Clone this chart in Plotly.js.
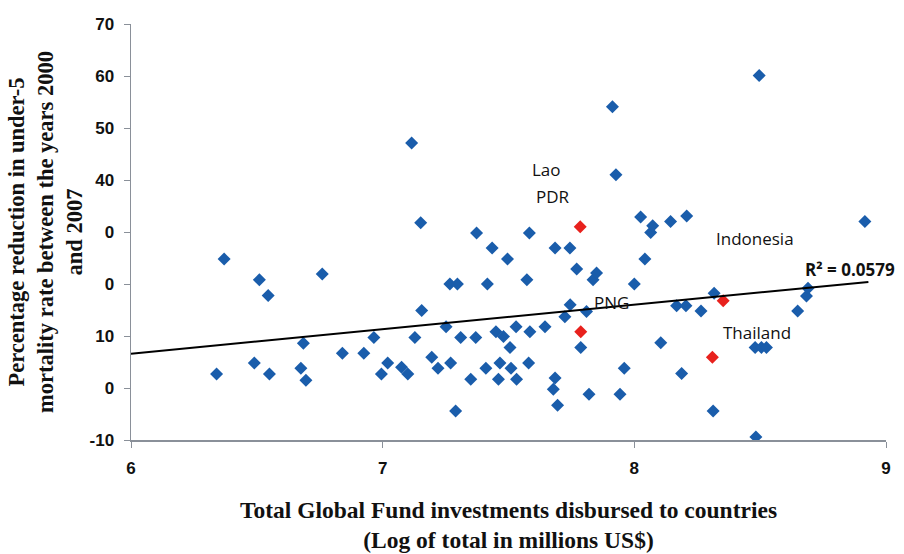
<!DOCTYPE html>
<html>
<head>
<meta charset="utf-8">
<script src="https://cdn.plot.ly/plotly-3.0.1.min.js"></script>
<style>html,body{margin:0;padding:0;background:#fff;}#chart{width:904px;height:554px;}</style>
</head>
<body>
<div id="chart"></div>
<script>
// Countries (blue): log total Global Fund investment vs % reduction in U5MR
const blueX = [6.34,6.37,6.49,6.51,6.545,6.55,6.685,6.675,6.695,6.76,6.84,6.925,6.965,6.995,7.02,7.075,7.10,7.115,7.128,7.151,
  7.155,7.195,7.22,7.252,7.267,7.27,7.29,7.297,7.31,7.35,7.37,7.373,7.41,7.416,7.435,7.45,7.466,7.46,7.48,7.496,
  7.506,7.51,7.53,7.532,7.573,7.58,7.583,7.585,7.645,7.678,7.685,7.685,7.695,7.724,7.744,7.745,7.771,7.787,7.81,7.82,
  7.836,7.85,7.913,7.927,7.943,7.96,8.0,8.025,8.042,8.065,8.073,8.105,8.144,8.168,8.188,8.205,8.208,8.265,8.313,8.317,
  8.483,8.48,8.496,8.505,8.525,8.649,8.684,8.69,8.916];
const blueY = [2.7,24.8,4.8,20.8,17.8,2.7,8.6,3.8,1.5,21.9,6.7,6.7,9.7,2.7,4.8,4.0,2.7,47.1,9.7,31.8,
  14.9,5.9,3.8,11.8,20.0,4.8,-4.4,20.0,9.7,1.7,9.7,29.8,3.8,20.0,26.9,10.8,4.8,1.7,9.9,24.8,
  7.8,3.8,11.8,1.7,20.8,4.8,29.8,10.8,11.8,-0.25,1.9,26.9,-3.3,13.7,26.9,16.0,22.9,7.8,14.7,-1.2,
  20.8,22.1,54.1,41.0,-1.2,3.8,20.0,32.9,24.8,29.9,31.2,8.7,32.0,15.8,2.8,15.8,33.1,14.8,-4.4,18.2,
  -9.4,7.8,60.1,7.8,7.8,14.8,17.7,19.2,32.0];
// Highlighted countries (red)
const redNames = ["Lao PDR","PNG","Indonesia","Thailand"];
const redX = [7.785,7.787,8.353,8.31];
const redY = [31.0,10.8,16.8,5.9];
// Linear trend line
const trendX = [6, 8.93];
const trendY = [6.6, 20.4];
const r2Text = "R² = 0.0579";
// Country label texts and their positions
const labelText = ["Lao","PDR","PNG","Indonesia","Thailand"];
const labelX = [7.649,7.677,7.911,8.479,8.487];
const labelY = [42.1,36.9,16.5,28.7,10.6];
// Axis ticks as printed
const yTickVals = [-10,0,10,20,30,40,50,60,70];
const yTickText = ["-10","0","10","0","0","40","50","60","70"];
const xTickVals = [6,7,8,9];
const xTickText = ["6","7","8","9"];

const BLUE = "#1a5dab", RED = "#e8211d";
const traces = [
  {x: blueX, y: blueY, type: "scatter", mode: "markers", name: "Countries",
   marker: {symbol: "diamond", size: 10, color: BLUE}},
  {x: redX, y: redY, text: redNames, type: "scatter", mode: "markers", name: "Highlighted",
   marker: {symbol: "diamond", size: 10, color: RED}},
  {x: trendX, y: trendY, type: "scatter", mode: "lines", name: "Linear trend",
   line: {color: "#000", width: 2}}
];
const annotations = labelText.map((t, i) => ({
  x: labelX[i], y: labelY[i], xref: "x", yref: "y", text: t, showarrow: false,
  font: {family: "Open Sans, Liberation Sans, sans-serif", size: 17, color: "#111"}
}));
annotations.push({x: 8.67, y: 22.7, xref: "x", yref: "y", text: r2Text, showarrow: false,
  xanchor: "left", font: {family: "Open Sans, Liberation Sans, sans-serif", size: 17, color: "#111", weight: "bold"}});

const axisLine = "#8a9099";
const layout = {
  width: 904, height: 554,
  margin: {l: 131, r: 18, t: 24, b: 114},
  paper_bgcolor: "#fff", plot_bgcolor: "#fff",
  showlegend: false,
  xaxis: {range: [6, 9], tickvals: xTickVals, ticktext: xTickText,
    showgrid: false, zeroline: false, showline: true, linecolor: axisLine, linewidth: 1.5,
    ticks: "outside", ticklen: 6, tickcolor: axisLine, ticklabelstandoff: 6,
    tickfont: {family: "Liberation Sans, Arial, sans-serif", size: 17, color: "#111", weight: "bold"},
    title: {text: "Total Global Fund investments disbursed to countries<br>(Log of total in millions US$)",
      font: {family: "Liberation Serif, Times New Roman, serif", size: 23.5, color: "#111", weight: "bold"},
      standoff: 24}},
  yaxis: {range: [-10, 70], tickvals: yTickVals, ticktext: yTickText,
    showgrid: false, zeroline: false, showline: true, linecolor: axisLine, linewidth: 1.5,
    ticks: "outside", ticklen: 6, tickcolor: axisLine, ticklabelstandoff: 6,
    tickfont: {family: "Liberation Sans, Arial, sans-serif", size: 17, color: "#111", weight: "bold"},
    title: {text: "Percentage reduction in under-5<br>mortality rate between the years 2000<br>and 2007",
      font: {family: "Liberation Serif, Times New Roman, serif", size: 22.5, color: "#111", weight: "bold"},
      standoff: 0}},
  annotations: annotations
};
Plotly.newPlot("chart", traces, layout, {staticPlot: true, displayModeBar: false});
</script>
</body>
</html>
